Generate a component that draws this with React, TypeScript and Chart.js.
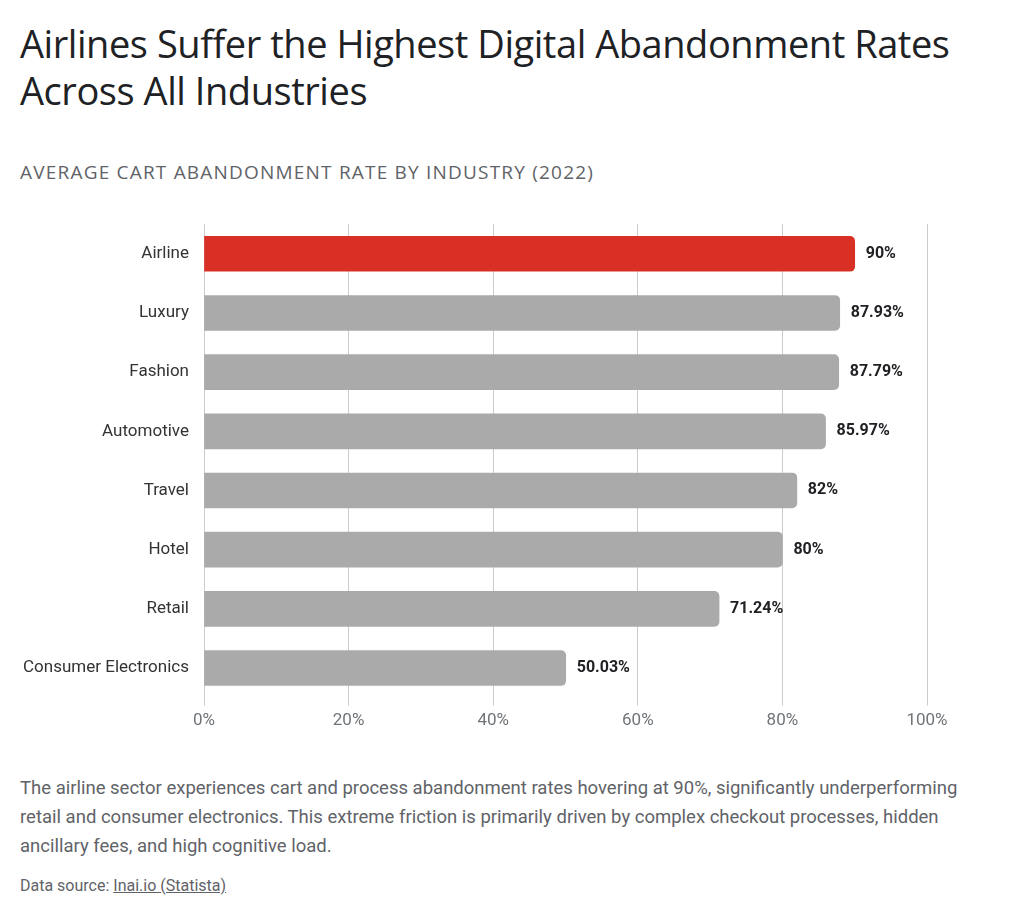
import React, { useEffect, useRef } from "react";
import { Chart, registerables } from "chart.js";

Chart.register(...registerables);

const TITLE = "Airlines Suffer the Highest Digital Abandonment Rates Across All Industries";
const SUBTITLE = "AVERAGE CART ABANDONMENT RATE BY INDUSTRY (2022)";
const CATEGORIES = [
  "Airline",
  "Luxury",
  "Fashion",
  "Automotive",
  "Travel",
  "Hotel",
  "Retail",
  "Consumer Electronics",
];
const RATES = [90, 87.93, 87.79, 85.97, 82, 80, 71.24, 50.03];
const RATE_LABELS = ["90%", "87.93%", "87.79%", "85.97%", "82%", "80%", "71.24%", "50.03%"];
const HIGHLIGHT = "Airline";
const X_TICKS = [0, 20, 40, 60, 80, 100];
const DESCRIPTION =
  "The airline sector experiences cart and process abandonment rates hovering at 90%, significantly underperforming retail and consumer electronics. This extreme friction is primarily driven by complex checkout processes, hidden ancillary fees, and high cognitive load.";
const SOURCE_NAME = "Inai.io (Statista)";

const RED = "#D93025";
const GREY = "#AAAAAA";
const DARK = "#202124";

// Draws the value text just past the end of each bar.
const valueLabels = {
  id: "valueLabels",
  afterDatasetsDraw(chart: any) {
    const { ctx } = chart;
    const meta = chart.getDatasetMeta(0);
    ctx.save();
    ctx.font = "bold 16px Roboto, 'Open Sans', sans-serif";
    ctx.fillStyle = DARK;
    ctx.textAlign = "left";
    ctx.textBaseline = "middle";
    meta.data.forEach((bar: any, i: number) => {
      ctx.fillText(RATE_LABELS[i], bar.x + 11, bar.y);
    });
    ctx.restore();
  },
};

export default function App() {
  const canvasRef = useRef<HTMLCanvasElement | null>(null);

  useEffect(() => {
    if (!canvasRef.current) return;
    const chart = new Chart(canvasRef.current, {
      type: "bar",
      data: {
        labels: CATEGORIES,
        datasets: [
          {
            data: RATES,
            backgroundColor: CATEGORIES.map((c) => (c === HIGHLIGHT ? RED : GREY)),
            borderRadius: 5,
            borderSkipped: "start",
            barThickness: 35,
          },
        ],
      },
      options: {
        indexAxis: "y",
        animation: false,
        responsive: false,
        maintainAspectRatio: false,
        layout: { padding: { left: 0, right: 97, top: 7, bottom: 0 } },
        plugins: {
          legend: { display: false },
          tooltip: { enabled: false },
        },
        scales: {
          x: {
            min: 0,
            max: 100,
            afterBuildTicks(scale: any) {
              scale.ticks = X_TICKS.map((v) => ({ value: v }));
            },
            ticks: {
              callback: (v: any) => `${v}%`,
              color: "#70757A",
              font: { size: 17, family: "Roboto, 'Open Sans', sans-serif" },
              padding: 5,
              maxRotation: 0,
            },
            grid: { color: "#CCCCCC", lineWidth: 1, tickLength: 8, drawTicks: true },
            border: { display: false },
          },
          y: {
            afterFit(scale: any) {
              scale.width = 204;
            },
            ticks: {
              color: "#333333",
              font: { size: 17, family: "Roboto, 'Open Sans', sans-serif" },
              padding: 15,
            },
            grid: { display: false, drawTicks: false },
            border: { display: false },
          },
        },
      },
      plugins: [valueLabels],
    });
    return () => chart.destroy();
  }, []);

  return (
    <div
      style={{
        position: "absolute",
        left: 0,
        top: 0,
        width: 1024,
        height: 918,
        background: "#fff",
        fontFamily: "Roboto, 'Open Sans', sans-serif",
      }}
    >
      <div
        style={{
          position: "absolute",
          left: 20,
          top: 20,
          width: 950,
          fontFamily: "'Open Sans', Roboto, sans-serif",
          fontSize: 38,
          lineHeight: "47px",
          color: DARK,
          letterSpacing: "-0.45px",
        }}
      >
        {TITLE}
      </div>
      <div
        style={{
          position: "absolute",
          left: 20,
          top: 159,
          fontFamily: "'Open Sans', Roboto, sans-serif",
          fontSize: 19,
          color: "#5F6368",
          letterSpacing: "1.2px",
        }}
      >
        {SUBTITLE}
      </div>
      <canvas
        ref={canvasRef}
        width={1024}
        height={537}
        style={{ position: "absolute", left: 0, top: 199, width: 1024, height: 537 }}
      />
      <div
        style={{
          position: "absolute",
          left: 20,
          top: 774,
          width: 965,
          fontSize: 18.5,
          lineHeight: "29px",
          color: "#5F6368",
        }}
      >
        {DESCRIPTION}
      </div>
      <div
        style={{
          position: "absolute",
          left: 20,
          top: 876,
          fontSize: 16,
          color: "#5F6368",
        }}
      >
        Data source: <span style={{ textDecoration: "underline" }}>{SOURCE_NAME}</span>
      </div>
    </div>
  );
}
